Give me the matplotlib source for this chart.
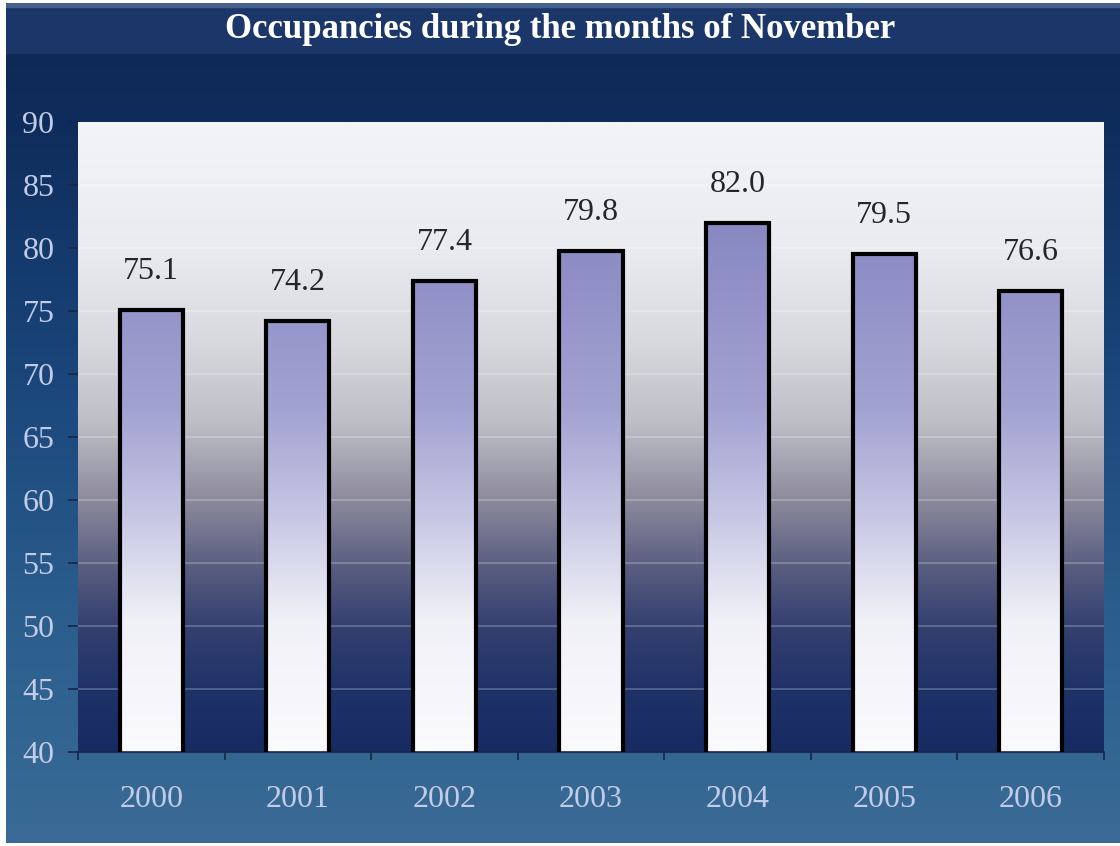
import matplotlib
matplotlib.use("Agg")
import matplotlib.pyplot as plt
import numpy as np
from matplotlib.colors import LinearSegmentedColormap
from matplotlib.patches import Rectangle

years = ["2000", "2001", "2002", "2003", "2004", "2005", "2006"]
occupancy = [75.1, 74.2, 77.4, 79.8, 82.0, 79.5, 76.6]
title = "Occupancies during the months of November"

serif = ["Liberation Serif", "DejaVu Serif"]

fig = plt.figure(figsize=(11.2, 8.46), dpi=100)
fig.patch.set_facecolor("white")

# figure background gradient (navy at top to steel blue at bottom)
bg = fig.add_axes([6 / 1120, 3 / 846, 1 - 6 / 1120, 1 - 6 / 846], zorder=-10)
bg_cmap = LinearSegmentedColormap.from_list(
    "bg", [(0.0, "#3a6b96"), (0.25, "#2c5f8e"), (0.55, "#1a467c"), (0.85, "#0f2d5c"), (1.0, "#0e2752")])
bg.imshow(np.linspace(0, 1, 256).reshape(-1, 1), cmap=bg_cmap, aspect="auto",
          extent=[0, 1, 0, 1], origin="lower")
bg.add_patch(Rectangle((0, 1 - 50 / 840), 1, 50 / 840, color="#1b376a", zorder=2))
bg.add_patch(Rectangle((0, 1 - 4 / 840), 1, 4 / 840, color="#45618c", zorder=3))
bg.set_xlim(0, 1)
bg.set_ylim(0, 1)
bg.axis("off")
fig.text(0.5, 1 - 30 / 846, title, ha="center", va="center", color="white",
         fontsize=25, fontweight="bold", family=serif)

ax = fig.add_axes([78 / 1120, 94 / 846, 1026 / 1120, 630 / 846])
ax.set_xlim(-0.5, len(years) - 0.5)
ax.set_ylim(40, 90)

# plot area gradient
plot_cmap = LinearSegmentedColormap.from_list(
    "plot", [(0.0, "#172a62"), (0.1, "#1f3268"), (0.2, "#34406f"), (0.3, "#5c6082"),
             (0.4, "#8c8a9c"), (0.52, "#bdbdc6"), (0.65, "#d8d9de"), (0.8, "#eaebef"), (1.0, "#f3f4f8")])
ax.imshow(np.linspace(0, 1, 256).reshape(-1, 1), cmap=plot_cmap, aspect="auto",
          extent=[-0.5, len(years) - 0.5, 40, 90], origin="lower", zorder=0)

for y in range(45, 90, 5):
    ax.axhline(y, color="white", alpha=0.22, lw=1.5, zorder=1)

bar_cmap = LinearSegmentedColormap.from_list(
    "bar", [(0.0, "#fbfbfd"), (0.25, "#f0f0f7"), (0.45, "#c6c6e4"), (0.65, "#a2a2d2"), (1.0, "#8888c2")])
bars = ax.bar(range(len(years)), occupancy, width=0.43, bottom=0, facecolor="none",
              edgecolor="black", linewidth=3, zorder=3)
for b in bars:
    im = ax.imshow(np.linspace(0, 1, 256).reshape(-1, 1), cmap=bar_cmap, aspect="auto",
                   extent=[b.get_x(), b.get_x() + b.get_width(), 40, 82], origin="lower", zorder=2)
    im.set_clip_path(b)

for i, v in enumerate(occupancy):
    ax.text(i, v + 1.9, f"{v:.1f}", ha="center", va="bottom", fontsize=23,
            color="#262626", family=serif, zorder=4)

ax.set_xticks(range(len(years)))
ax.set_xticklabels(years, family=serif, fontsize=23, color="#c3cce6")
ax.set_xticks(np.arange(-0.5, len(years), 1), minor=True)
ax.tick_params(axis="x", which="major", length=0, pad=24)
ax.tick_params(axis="x", which="minor", length=6, width=1.2, color="#1a2448", direction="out")
ax.set_yticks(range(40, 91, 5))
ax.set_yticklabels([str(t) for t in range(40, 91, 5)], family=serif, fontsize=23, color="#c3cce6")
ax.tick_params(axis="y", length=7, width=1.2, color="#1a2448", pad=10)
for s in ["left", "right", "top"]:
    ax.spines[s].set_visible(False)
ax.spines["bottom"].set_color("#1a2448")
ax.spines["bottom"].set_linewidth(1.2)

fig.savefig("out.png", dpi=100)
